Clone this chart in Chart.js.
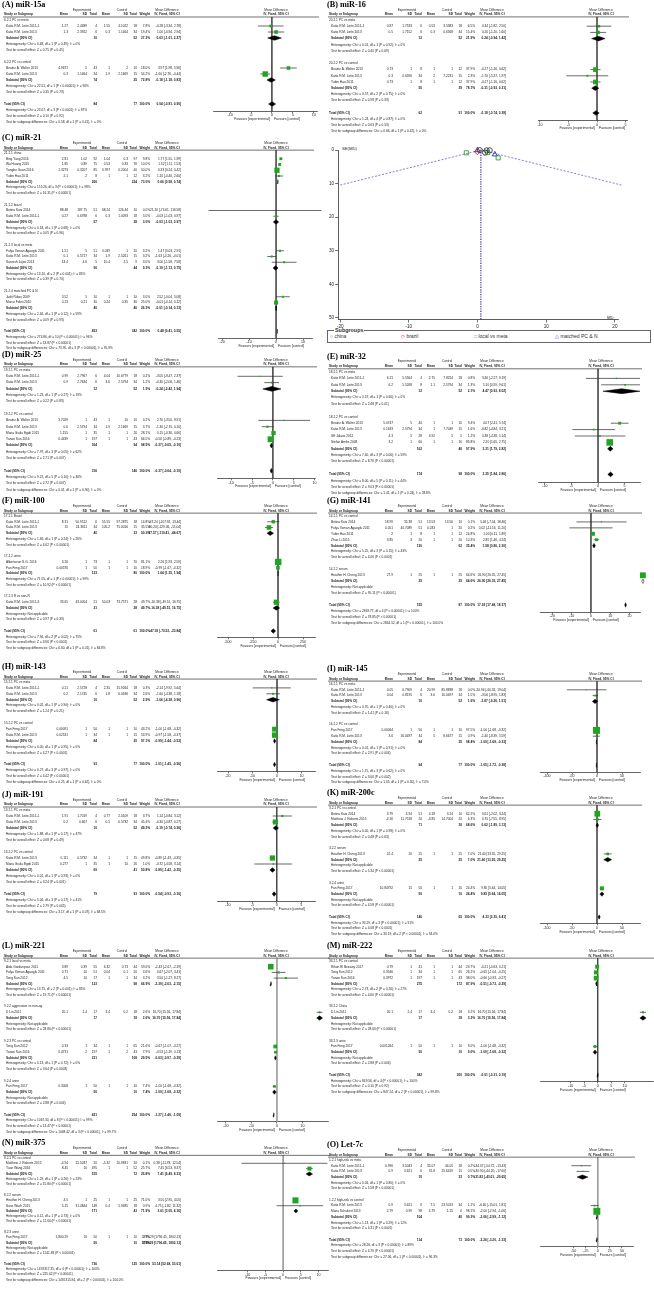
<!DOCTYPE html>
<html>
<head>
<meta charset="utf-8">
<script src="https://cdn.jsdelivr.net/npm/chart.js@4.4.1/dist/chart.umd.min.js"></script>
<style>
  body { margin: 0; background: #fff; width: 654px; height: 1295px; position: relative; overflow: hidden; }
  canvas { position: absolute; }
  .ttl { position: absolute; font: bold 8.2px "Liberation Serif", "Times New Roman", serif; line-height: 10px; white-space: nowrap; color: #000; }
  .lbl { position: absolute; font: 4.2px "Liberation Sans", Arial, sans-serif; color: #222; white-space: nowrap; }
  #legendBox { position: absolute; left: 327px; top: 330px; width: 322px; height: 11px; border: 0.8px solid #666; }
  #legendBox span { position: absolute; top: 2px; font: 5px "Liberation Sans", Arial, sans-serif; color: #333; white-space: nowrap; }
  #legendBox b { position: absolute; left: 6px; top: -4px; background: #fff; padding: 0 1px; font: bold 5.4px "Liberation Sans", Arial, sans-serif; color: #333; }
</style>
</head>
<body>
<div class="lbl" style="left:342px;top:146px;">SE(MD)</div>
<div class="lbl" style="left:607px;top:315px;">MD</div>
<div id="legendBox">
  <b>Subgroups</b>
  <span style="left:2px"><i style="font-style:normal;color:#222">○</i> china</span>
  <span style="left:73px"><i style="font-style:normal;color:#d42a2a">◇</i> brazil</span>
  <span style="left:146px"><i style="font-style:normal;color:#2fa32f">□</i> local vs meta</span>
  <span style="left:227px"><i style="font-style:normal;color:#2a2ad0">△</i> matched PC &amp; N</span>
</div>
<script>
/* -----------------------------------------------------------
      DATA
   row kinds: g = subgroup, s = study, d = subtotal,
   D = total, t = text line, b = blank
   s: name, meanE, sdE, nE, meanC, sdC, nC, weight, md, lo, hi
   d/D: label, nE, nC, weight, md, lo, hi
------------------------------------------------------------*/
const miR15a = [
  ['g', '6.2.1 PC vs meta'],
  ['s', 'Katia R.M. Leite 2011-1', '1.27', '2.4489', '4', '1.55', '4.1022', '18', 7.8, -0.28, -3.34, 2.78],
  ['s', 'Katia R.M. Leite 2013', '1.3', '2.3922', '6', '0.3', '1.1464', '34', 19.4, 1.00, -0.94, 2.94],
  ['d', 'Subtotal (95% CI)', '10', '52', 27.2, 0.63, -1.01, 2.27],
  ['t', 'Heterogeneity: Chi² = 0.48, df = 1 (P = 0.49); I² = 0%'],
  ['t', 'Test for overall effect: Z = 0.75 (P = 0.45)'],
  ['b'],
  ['g', '6.2.2 PC vs control'],
  ['s', 'Beatriz A. Walter 2013', '4.9671', '5', '43', '1', '2', '10', 18.0, 3.97, 1.98, 5.96],
  ['s', 'Katia R.M. Leite 2013', '0.3', '1.1464', '34', '1.9', '2.1669', '15', 54.2, -1.60, -2.76, -0.44],
  ['d', 'Subtotal (95% CI)', '74', '25', 72.8, -0.18, -1.18, 0.83],
  ['t', 'Heterogeneity: Chi² = 22.51, df = 1 (P < 0.00001); I² = 96%'],
  ['t', 'Test for overall effect: Z = 0.35 (P = 0.73)'],
  ['b'],
  ['D', 'Total (95% CI)', '84', '77', 100.0, 0.04, -0.81, 0.90],
  ['t', 'Heterogeneity: Chi² = 23.07, df = 3 (P < 0.0001); I² = 87%'],
  ['t', 'Test for overall effect: Z = 0.10 (P = 0.92)'],
  ['t', 'Test for subgroup differences: Chi² = 0.58, df = 1 (P = 0.41), I² = 0%']
];
const miR15aTicks = [-10, -5, 0, 5, 10];

const miR16 = [
  ['g', '20.2.1 PC vs meta'],
  ['s', 'Katia R.M. Leite 2011-1', '0.87', '1.7533', '6', '0.53', '3.5383', '18', 6.5, 0.34, -1.82, 2.50],
  ['s', 'Katia R.M. Leite 2013', '0.5', '1.7152', '6', '0.3', '0.6568', '34', 15.4, 0.20, -1.20, 1.60],
  ['d', 'Subtotal (95% CI)', '12', '52', 21.9, 0.24, -0.94, 1.42],
  ['t', 'Heterogeneity: Chi² = 0.01, df = 1 (P = 0.92); I² = 0%'],
  ['t', 'Test for overall effect: Z = 0.40 (P = 0.69)'],
  ['b'],
  ['g', '20.2.2 PC vs control'],
  ['s', 'Beatriz A. Walter 2013', '0.73', '1', '8', '1', '1', '12', 37.9, -0.27, -1.16, 0.62],
  ['s', 'Katia R.M. Leite 2013', '0.3', '0.6596', '34', '2', '7.2231', '15', 2.3, -1.70, -5.37, 1.97],
  ['s', 'Yubin Hao 2011', '0.73', '1', '8', '1', '1', '12', 37.9, -0.27, -1.16, 0.62],
  ['d', 'Subtotal (95% CI)', '50', '39', 78.1, -0.31, -0.93, 0.31],
  ['t', 'Heterogeneity: Chi² = 0.57, df = 2 (P = 0.75); I² = 0%'],
  ['t', 'Test for overall effect: Z = 0.98 (P = 0.33)'],
  ['b'],
  ['D', 'Total (95% CI)', '62', '91', 100.0, -0.18, -0.74, 0.38],
  ['t', 'Heterogeneity: Chi² = 1.24, df = 4 (P = 0.87); I² = 0%'],
  ['t', 'Test for overall effect: Z = 0.63 (P = 0.53)'],
  ['t', 'Test for subgroup differences: Chi² = 0.66, df = 1 (P = 0.42), I² = 0%']
];
const miR16Ticks = [-10, -5, 0, 5];

const miR21 = [
  ['g', '21.2.1 china'],
  ['s', 'Bing Yang 2016', '2.81', '1.02', '92', '1.04', '0.3', '97', 9.8, 1.77, 1.55, 1.99],
  ['s', 'Wu Huang 2015', '1.85', '0.89', '75', '0.53', '0.33', '76', 10.0, 1.32, 1.11, 1.53],
  ['s', 'Yangbo Guan 2016', '1.3273', '0.3207', '85', '0.997', '0.2004', '40', 50.0, 0.33, 0.24, 0.42],
  ['s', 'Yubin Hao 2011', '2.1', '2', '8', '1', '1', '12', 3.2, 1.10, -0.40, 2.60],
  ['d', 'Subtotal (95% CI)', '260', '224', 73.0, 0.66, 0.58, 0.74],
  ['t', 'Heterogeneity: Chi² = 155.26, df = 3 (P < 0.00001); I² = 98%'],
  ['t', 'Test for overall effect: Z = 16.31 (P < 0.00001)'],
  ['b'],
  ['g', '21.2.2 brazil'],
  ['s', 'Betina Katz 2014', '88.48', '187.75', '51', '68.24', '126.44', '10', 0.0, 21.20, -74.61, 116.58],
  ['s', 'Katia R.M. Leite 2011-1', '0.27', '0.6788', '6', '0.3', '1.0093', '18', 3.0, -0.03, -1.03, 0.97],
  ['d', 'Subtotal (95% CI)', '57', '28', 3.0, -0.03, -1.03, 0.97],
  ['t', 'Heterogeneity: Chi² = 0.18, df = 1 (P = 0.68); I² = 0%'],
  ['t', 'Test for overall effect: Z = 0.05 (P = 0.96)'],
  ['b'],
  ['g', '21.2.3 local vs meta'],
  ['s', 'Fulya Yaman Agaoglu 2011', '1.51', '5', '51', '0.039', '1', '20', 3.2, 1.47, 0.03, 2.91],
  ['s', 'Katia R.M. Leite 2013', '0.1', '0.5717', '34', '1.9', '2.5261', '15', 3.2, -1.63, -3.26, -0.01],
  ['s', 'Sarvesh Jajoo 2013', '13.4', '4.6', '5', '10.4', '2.5', '9', 3.0, 3.00, -1.58, 7.58],
  ['d', 'Subtotal (95% CI)', '90', '44', 9.3, -0.19, -1.13, 0.75],
  ['t', 'Heterogeneity: Chi² = 13.10, df = 2 (P = 0.001); I² = 85%'],
  ['t', 'Test for overall effect: Z = 0.39 (P = 0.70)'],
  ['b'],
  ['g', '21.2.4 matched PC & N'],
  ['s', 'Judit Ribas 2009', '3.52', '5', '10', '1', '1', '10', 3.0, 2.52, -0.04, 5.08],
  ['s', 'Marco Folini 2010', '0.23', '0.21', '30', '0.24', '0.35', '36', 25.0, -0.01, -0.14, 0.12],
  ['d', 'Subtotal (95% CI)', '40', '46', 26.3, -0.01, -0.14, 0.13],
  ['t', 'Heterogeneity: Chi² = 2.46, df = 1 (P = 0.12); I² = 59%'],
  ['t', 'Test for overall effect: Z = 0.09 (P = 0.93)'],
  ['b'],
  ['D', 'Total (95% CI)', '453', '342', 100.0, 0.48, 0.41, 0.55],
  ['t', 'Heterogeneity: Chi² = 274.86, df = 10 (P < 0.00001); I² = 96%'],
  ['t', 'Test for overall effect: Z = 13.87 (P < 0.00001)'],
  ['t', 'Test for subgroup differences: Chi² = 73.95, df = 3 (P < 0.00001), I² = 95.9%']
];
const miR21Ticks = [-20, -10, 0, 10];

const miR25 = [
  ['g', '19.2.1 PC vs meta'],
  ['s', 'Katia R.M. Leite 2011-1', '0.99', '2.7967', '6', '4.04', '10.6779', '18', 0.2, -3.05, -8.47, 2.37],
  ['s', 'Katia R.M. Leite 2013', '0.9', '2.7634', '6', '3.6', '2.5794', '34', 1.2, -0.30, -2.06, 1.46],
  ['d', 'Subtotal (95% CI)', '12', '52', 1.5, -0.24, -2.42, 1.94],
  ['t', 'Heterogeneity: Chi² = 1.23, df = 1 (P = 0.27); I² = 19%'],
  ['t', 'Test for overall effect: Z = 0.22 (P = 0.83)'],
  ['b'],
  ['g', '19.2.2 PC vs control'],
  ['s', 'Beatriz A. Walter 2013', '3.7029', '1', '43', '1', '10', '10', 0.2, 2.70, -3.50, 8.91],
  ['s', 'Katia R.M. Leite 2013', '0.6', '2.5794', '34', '1.9', '2.1669', '15', 3.7, -1.30, -2.70, 0.10],
  ['s', 'Maria Giulia Egidi 2015', '1.155', '1', '35', '1', '1', '26', 28.1, 0.15, -0.36, 0.66],
  ['s', 'Yanan Sun 2016', '0.4439', '1', '197', '1', '1', '43', 66.5, -0.56, -0.89, -0.23],
  ['d', 'Subtotal (95% CI)', '304', '94', 98.5, -0.37, -0.65, -0.10],
  ['t', 'Heterogeneity: Chi² = 7.97, df = 3 (P = 0.05); I² = 62%'],
  ['t', 'Test for overall effect: Z = 2.71 (P = 0.007)'],
  ['b'],
  ['D', 'Total (95% CI)', '316', '146', 100.0, -0.37, -0.64, -0.10],
  ['t', 'Heterogeneity: Chi² = 9.22, df = 5 (P = 0.10); I² = 46%'],
  ['t', 'Test for overall effect: Z = 2.72 (P = 0.007)'],
  ['t', 'Test for subgroup differences: Chi² = 0.01, df = 1 (P = 0.90), I² = 0%']
];
const miR25Ticks = [-10, -5, 0, 5, 10];

const miR32 = [
  ['g', '18.2.1 PC vs meta'],
  ['s', 'Katia R.M. Leite 2011-1', '6.21', '5.5564', '4', '2.75', '7.8224', '18', 0.8, 3.46, -2.27, 9.19],
  ['s', 'Katia R.M. Leite 2013', '6.2', '5.5268', '8', '1.1', '2.5794', '34', 1.3, 5.10, 0.59, 9.61],
  ['d', 'Subtotal (95% CI)', '12', '52', 2.1, 4.47, 0.93, 8.02],
  ['t', 'Heterogeneity: Chi² = 0.19, df = 1 (P = 0.66); I² = 0%'],
  ['t', 'Test for overall effect: Z = 2.48 (P = 0.01)'],
  ['b'],
  ['g', '18.2.2 PC vs control'],
  ['s', 'Beatriz A. Walter 2013', '5.0747', '5', '40', '1', '1', '10', 9.4, 4.07, 2.41, 5.74],
  ['s', 'Katia R.M. Leite 2013', '0.1633', '2.5794', '34', '1', '7.7049', '15', 1.6, -0.82, -4.84, 3.21],
  ['s', 'SE Jalava 2012', '4.3', '5', '28', '3.92', '5', '5', 1.2, 0.38, -4.38, 5.14],
  ['s', 'Stefan Ambs 2008', '3.2', '1', '60', '1', '1', '16', 85.8, 2.20, 1.65, 2.75],
  ['d', 'Subtotal (95% CI)', '162', '46', 97.9, 2.31, 1.79, 2.82],
  ['t', 'Heterogeneity: Chi² = 7.40, df = 3 (P = 0.06); I² = 59%'],
  ['t', 'Test for overall effect: Z = 8.76 (P < 0.00001)'],
  ['b'],
  ['D', 'Total (95% CI)', '174', '98', 100.0, 2.35, 1.84, 2.86],
  ['t', 'Heterogeneity: Chi² = 8.00, df = 5 (P = 0.11); I² = 44%'],
  ['t', 'Test for overall effect: Z = 9.03 (P < 0.00001)'],
  ['t', 'Test for subgroup differences: Chi² = 1.41, df = 1 (P = 0.24), I² = 28.8%']
];
const miR32Ticks = [-10, -5, 0, 5];

const miR100 = [
  ['g', '17.2.1 Brazil'],
  ['s', 'Katia R.M. Leite 2011-1', '8.31', '50.9512', '6', '55.55', '97.2875', '18', 14.8, -47.24, -107.92, 13.44],
  ['s', 'Katia R.M. Leite 2013', '15', '24.3611', '34', '105.2', '75.0016', '15', 35.5, -90.20, -129.36, -51.04],
  ['d', 'Subtotal (95% CI)', '40', '33', 50.3, -77.57, -110.41, -44.67],
  ['t', 'Heterogeneity: Chi² = 1.36, df = 1 (P = 0.24); I² = 26%'],
  ['t', 'Test for overall effect: Z = 4.62 (P < 0.00001)'],
  ['b'],
  ['g', '17.2.2 urine'],
  ['s', 'Albertovan S.G. 2016', '3.26', '1', '73', '1', '1', '70', 81.1, 2.26, 1.93, 2.59],
  ['s', 'Fan Feng 2017', '0.00576', '1', '50', '1', '1', '10', 18.9, -0.99, -1.67, -0.32],
  ['d', 'Subtotal (95% CI)', '123', '80', 100.0, 1.64, 1.35, 1.94],
  ['t', 'Heterogeneity: Chi² = 71.55, df = 1 (P < 0.00001); I² = 99%'],
  ['t', 'Test for overall effect: Z = 10.92 (P < 0.00001)'],
  ['b'],
  ['g', '17.2.3 R vs non-R'],
  ['s', 'Katia R.M. Leite 2011-3', '33.65', '43.0054', '21', '50.03', '73.7571', '28', 49.7, -16.38, -49.51, 16.75],
  ['d', 'Subtotal (95% CI)', '21', '28', 49.7, -16.38, -49.51, 16.75],
  ['t', 'Heterogeneity: Not applicable'],
  ['t', 'Test for overall effect: Z = 0.97 (P = 0.33)'],
  ['b'],
  ['D', 'Total (95% CI)', '61', '61', 100.0, -47.18, -70.53, -23.84],
  ['t', 'Heterogeneity: Chi² = 7.96, df = 2 (P = 0.02); I² = 75%'],
  ['t', 'Test for overall effect: Z = 3.96 (P < 0.0001)'],
  ['t', 'Test for subgroup differences: Chi² = 6.60, df = 1 (P = 0.01), I² = 84.8%']
];
const miR100Ticks = [-500, -250, 0, 250];

const miR141 = [
  ['g', '14.2.1 PC vs control'],
  ['s', 'Betina Katz 2014', '18.99', '35.38', '51', '13.53', '13.56', '10', 0.1, 5.46, -7.54, 18.46],
  ['s', 'Fulya Yaman Agaoglu 2011', '0.051', '40.7089', '51', '0.033', '1', '20', 0.2, 0.02, -11.16, 11.20],
  ['s', 'Yubin Hao 2011', '2', '1', '8', '1', '1', '12', 24.8, 1.00, 0.11, 1.89],
  ['s', 'Zhuo Li 2015', '3.85', '3', '20', '1', '1', '20', 10.3, 2.85, 1.46, 4.24],
  ['d', 'Subtotal (95% CI)', '130', '62', 35.4, 1.58, 0.86, 2.30],
  ['t', 'Heterogeneity: Chi² = 5.25, df = 3 (P = 0.15); I² = 43%'],
  ['t', 'Test for overall effect: Z = 4.06 (P < 0.0001)'],
  ['b'],
  ['g', '14.2.2 serum'],
  ['s', 'Heather H. Cheng 2013', '27.9', '1', '25', '1', '1', '25', 64.6, 26.90, 26.35, 27.45],
  ['d', 'Subtotal (95% CI)', '25', '25', 64.6, 26.90, 26.35, 27.45],
  ['t', 'Heterogeneity: Not applicable'],
  ['t', 'Test for overall effect: Z = 95.11 (P < 0.00001)'],
  ['b'],
  ['D', 'Total (95% CI)', '155', '87', 100.0, 17.92, 17.48, 18.37],
  ['t', 'Heterogeneity: Chi² = 2849.77, df = 4 (P < 0.00001); I² = 100%'],
  ['t', 'Test for overall effect: Z = 78.85 (P < 0.00001)'],
  ['t', 'Test for subgroup differences: Chi² = 2844.52, df = 1 (P < 0.00001), I² = 100.0%']
];
const miR141Ticks = [-20, -10, 0, 10, 20];

const miR143 = [
  ['g', '15.2.1 PC vs meta'],
  ['s', 'Katia R.M. Leite 2011-1', '0.21', '2.5728', '4', '2.35', '15.9264', '18', 0.3, -2.14, -9.92, 5.64],
  ['s', 'Katia R.M. Leite 2013', '0.2', '2.1745', '6', '1.8', '6.0186', '34', 2.6, -1.60, -4.38, 1.18],
  ['d', 'Subtotal (95% CI)', '10', '52', 2.9, -1.66, -4.28, 0.96],
  ['t', 'Heterogeneity: Chi² = 0.02, df = 1 (P = 0.90); I² = 0%'],
  ['t', 'Test for overall effect: Z = 1.24 (P = 0.21)'],
  ['b'],
  ['g', '15.2.2 PC vs control'],
  ['s', 'Fan Feng 2017', '0.00091', '1', '50', '1', '1', '10', 43.2, -1.00, -1.68, -0.32],
  ['s', 'Katia R.M. Leite 2013', '0.02531', '1', '34', '1', '1', '15', 53.9, -0.97, -1.58, -0.37],
  ['d', 'Subtotal (95% CI)', '84', '25', 97.1, -0.99, -1.44, -0.53],
  ['t', 'Heterogeneity: Chi² = 0.00, df = 1 (P = 0.95); I² = 0%'],
  ['t', 'Test for overall effect: Z = 4.27 (P < 0.0001)'],
  ['b'],
  ['D', 'Total (95% CI)', '93', '77', 100.0, -1.01, -1.45, -0.56],
  ['t', 'Heterogeneity: Chi² = 0.27, df = 3 (P = 0.97); I² = 0%'],
  ['t', 'Test for overall effect: Z = 4.42 (P < 0.00001)'],
  ['t', 'Test for subgroup differences: Chi² = 0.25, df = 1 (P = 0.62), I² = 0%']
];
const miR143Ticks = [-20, -10, 0, 10];

const miR145 = [
  ['g', '16.2.1 PC vs meta'],
  ['s', 'Katia R.M. Leite 2011-1', '0.05', '0.7909', '4', '20.99', '85.8838', '18', 0.0, -20.94, -60.32, 19.04],
  ['s', 'Katia R.M. Leite 2013', '0.04', '0.8195', '6', '3.6', '16.0497', '34', 1.5, -3.56, -8.95, 1.83],
  ['d', 'Subtotal (95% CI)', '10', '52', 1.6, -3.87, -9.26, 1.51],
  ['t', 'Heterogeneity: Chi² = 0.70, df = 1 (P = 0.40); I² = 0%'],
  ['t', 'Test for overall effect: Z = 1.41 (P = 0.16)'],
  ['b'],
  ['g', '16.2.2 PC vs control'],
  ['s', 'Fan Feng 2017', '0.00064', '1', '50', '1', '1', '10', 97.5, -1.00, -1.68, -0.32],
  ['s', 'Katia R.M. Leite 2013', '3.6', '16.0497', '34', '5', '8.6677', '15', 0.9, -1.40, -8.39, 5.59],
  ['d', 'Subtotal (95% CI)', '84', '25', 98.4, -1.00, -1.68, -0.33],
  ['t', 'Heterogeneity: Chi² = 0.01, df = 1 (P = 0.91); I² = 0%'],
  ['t', 'Test for overall effect: Z = 2.91 (P = 0.004)'],
  ['b'],
  ['D', 'Total (95% CI)', '94', '77', 100.0, -1.05, -1.72, -0.38],
  ['t', 'Heterogeneity: Chi² = 1.75, df = 3 (P = 0.62); I² = 0%'],
  ['t', 'Test for overall effect: Z = 3.06 (P = 0.002)'],
  ['t', 'Test for subgroup differences: Chi² = 1.05, df = 1 (P = 0.30), I² = 7.0%']
];
const miR145Ticks = [-100, -50, 0, 50];

const miR191 = [
  ['g', '13.2.1 PC vs meta'],
  ['s', 'Katia R.M. Leite 2011-1', '1.91', '1.7019', '4', '0.77', '2.0109', '18', 3.7, 1.14, -0.84, 3.12],
  ['s', 'Katia R.M. Leite 2013', '0.2', '0.667', '6', '0.5', '0.5732', '34', 45.4, -0.30, -0.87, 0.27],
  ['d', 'Subtotal (95% CI)', '10', '52', 49.2, -0.19, -0.74, 0.36],
  ['t', 'Heterogeneity: Chi² = 1.88, df = 1 (P = 0.17); I² = 47%'],
  ['t', 'Test for overall effect: Z = 0.68 (P = 0.49)'],
  ['b'],
  ['g', '13.2.2 PC vs control'],
  ['s', 'Katia R.M. Leite 2013', '0.111', '0.5732', '34', '1', '1', '15', 49.8, -0.89, -1.43, -0.35],
  ['s', 'Maria Giulia Egidi 2015', '0.277', '1', '35', '1', '10', '26', 1.0, -0.72, -4.58, 3.14],
  ['d', 'Subtotal (95% CI)', '69', '41', 50.8, -0.89, -1.42, -0.35],
  ['t', 'Heterogeneity: Chi² = 0.01, df = 1 (P = 0.93); I² = 0%'],
  ['t', 'Test for overall effect: Z = 3.24 (P = 0.001)'],
  ['b'],
  ['D', 'Total (95% CI)', '79', '93', 100.0, -0.54, -0.93, -0.16],
  ['t', 'Heterogeneity: Chi² = 5.06, df = 3 (P = 0.17); I² = 41%'],
  ['t', 'Test for overall effect: Z = 2.79 (P = 0.005)'],
  ['t', 'Test for subgroup differences: Chi² = 3.17, df = 1 (P = 0.07), I² = 68.5%']
];
const miR191Ticks = [-10, -5, 0, 5];

const miR200c = [
  ['g', '3.2.1 PC vs control'],
  ['s', 'Betina Katz 2014', '3.79', '5.94', '51', '3.18', '3.24', '10', 62.2, 0.61, -2.02, 3.24],
  ['s', 'Matthew J. Roberts 2015', '-3.16', '11.7518', '20', '-3.85', '14.7004', '20', 6.3, 0.70, -7.55, 8.95],
  ['d', 'Subtotal (95% CI)', '71', '30', 68.6, 0.62, -1.89, 3.13],
  ['t', 'Heterogeneity: Chi² = 0.00, df = 1 (P = 0.98); I² = 0%'],
  ['t', 'Test for overall effect: Z = 0.48 (P = 0.63)'],
  ['b'],
  ['g', '3.2.2 serum'],
  ['s', 'Heather H. Cheng 2013', '22.4', '20', '25', '1', '1', '25', 7.0, 21.40, 13.55, 29.25],
  ['d', 'Subtotal (95% CI)', '25', '25', 7.0, 21.40, 13.55, 29.25],
  ['t', 'Heterogeneity: Not applicable'],
  ['t', 'Test for overall effect: Z = 5.34 (P < 0.00001)'],
  ['b'],
  ['g', '3.2.4 urine'],
  ['s', 'Fan Feng 2017', '10.84792', '15', '50', '1', '1', '10', 24.4, 9.85, 5.64, 14.05],
  ['d', 'Subtotal (95% CI)', '50', '10', 24.4, 9.85, 5.64, 14.05],
  ['t', 'Heterogeneity: Not applicable'],
  ['t', 'Test for overall effect: Z = 4.58 (P < 0.00001)'],
  ['b'],
  ['D', 'Total (95% CI)', '146', '65', 100.0, 4.33, 2.25, 6.41],
  ['t', 'Heterogeneity: Chi² = 33.19, df = 3 (P < 0.00001); I² = 91%'],
  ['t', 'Test for overall effect: Z = 4.08 (P < 0.0001)'],
  ['t', 'Test for subgroup differences: Chi² = 33.19, df = 2 (P < 0.00001), I² = 94.0%']
];
const miR200cTicks = [-100, -50, 0, 50];

const miR221 = [
  ['g', '9.2.1 local vs meta'],
  ['s', 'Aida Gordanpour 2011', '3.89', '0.39', '55', '6.32', '0.73', '44', 59.0, -2.43, -2.67, -2.19],
  ['s', 'Fulya Yaman Agaoglu 2011', '0.71', '10', '51', '0.04', '0.1', '20', 3.6, 0.67, -2.07, 3.41],
  ['s', 'Tong Sun 2012', '4.5', '10', '17', '1', '1', '34', 3.2, 3.50, -1.27, 8.27],
  ['d', 'Subtotal (95% CI)', '123', '98', 66.9, -2.39, -2.63, -2.15],
  ['t', 'Heterogeneity: Chi² = 13.75, df = 2 (P = 0.001); I² = 85%'],
  ['t', 'Test for overall effect: Z = 19.71 (P < 0.00001)'],
  ['b'],
  ['g', '9.2.2 aggressive vs non-ag'],
  ['s', 'D Lin 2011', '20.1', '2.4', '17', '3.4', '0.2', '18', 2.6, 16.70, 15.56, 17.84],
  ['d', 'Subtotal (95% CI)', '17', '18', 2.6, 16.70, 15.56, 17.84],
  ['t', 'Heterogeneity: Not applicable'],
  ['t', 'Test for overall effect: Z = 28.80 (P < 0.00001)'],
  ['b'],
  ['g', '9.2.3 PC vs control'],
  ['s', 'Tong Sun 2012', '0.33', '1', '34', '1', '1', '65', 21.6, -0.67, -1.07, -0.27],
  ['s', 'Yanan Sun 2016', '0.4731', '2', '197', '1', '2', '43', 7.9, -0.53, -1.19, 0.13],
  ['d', 'Subtotal (95% CI)', '231', '108', 29.5, -0.63, -0.97, -0.29],
  ['t', 'Heterogeneity: Chi² = 0.13, df = 1 (P = 0.72); I² = 0%'],
  ['t', 'Test for overall effect: Z = 3.64 (P = 0.0003)'],
  ['b'],
  ['g', '9.2.4 urine'],
  ['s', 'Fan Feng 2017', '0.3008', '1', '50', '1', '1', '10', 7.4, -1.00, -1.68, -0.32],
  ['d', 'Subtotal (95% CI)', '50', '10', 7.4, -1.00, -1.68, -0.32],
  ['t', 'Heterogeneity: Not applicable'],
  ['t', 'Test for overall effect: Z = 2.88 (P = 0.004)'],
  ['b'],
  ['D', 'Total (95% CI)', '421', '254', 100.0, -1.27, -1.46, -1.09],
  ['t', 'Heterogeneity: Chi² = 1067.30, df = 8 (P < 0.00001); I² = 99%'],
  ['t', 'Test for overall effect: Z = 13.47 (P < 0.00001)'],
  ['t', 'Test for subgroup differences: Chi² = 1048.42, df = 3 (P < 0.00001), I² = 99.7%']
];
const miR221Ticks = [-20, -10, 0, 10];

const miR222 = [
  ['g', '33.2.1 PC vs control'],
  ['s', 'Rihan El Bezawy 2017', '0.79', '1', '41', '1', '1', '44', 23.7, -0.21, -0.63, 0.21],
  ['s', 'Tong Sun 2012', '0.3546', '1', '34', '1', '1', '65', 26.2, -0.65, -1.04, -0.25],
  ['s', 'Yanan Sun 2016', '0.3972', '1', '197', '1', '1', '43', 38.0, -0.60, -0.93, -0.27],
  ['d', 'Subtotal (95% CI)', '275', '172', 87.9, -0.51, -0.73, -0.29],
  ['t', 'Heterogeneity: Chi² = 2.73, df = 2 (P = 0.26); I² = 27%'],
  ['t', 'Test for overall effect: Z = 4.60 (P < 0.00001)'],
  ['b'],
  ['g', '33.2.2 China'],
  ['s', 'D Lin 2011', '20.1', '2.4', '17', '3.4', '0.2', '18', 3.2, 16.70, 15.56, 17.84],
  ['d', 'Subtotal (95% CI)', '17', '18', 3.2, 16.70, 15.56, 17.84],
  ['t', 'Heterogeneity: Not applicable'],
  ['t', 'Test for overall effect: Z = 28.60 (P < 0.00001)'],
  ['b'],
  ['g', '33.2.3 urine'],
  ['s', 'Fan Feng 2017', '0.001264', '1', '50', '1', '1', '10', 9.0, -1.00, -1.68, -0.32],
  ['d', 'Subtotal (95% CI)', '50', '10', 9.0, -1.00, -1.68, -0.32],
  ['t', 'Heterogeneity: Not applicable'],
  ['t', 'Test for overall effect: Z = 2.88 (P = 0.004)'],
  ['b'],
  ['D', 'Total (95% CI)', '342', '200', 100.0, -0.01, -0.21, 0.19],
  ['t', 'Heterogeneity: Chi² = 849.56, df = 4 (P < 0.00001); I² = 100%'],
  ['t', 'Test for overall effect: Z = 0.10 (P = 0.92)'],
  ['t', 'Test for subgroup differences: Chi² = 847.24, df = 2 (P < 0.00001), I² = 99.8%']
];
const miR222Ticks = [-10, -5, 0, 5, 10];

const miR375 = [
  ['g', '8.2.1 PC vs control'],
  ['s', 'Matthew J. Roberts 2015', '-4.94', '15.5037', '20', '-5.32', '20.9831', '20', 0.1, 0.38, -11.78, 12.54],
  ['s', 'Yuan Wang 2016', '8.45', '10', '495', '1', '1', '52', 25.7, 7.45, 6.53, 8.37],
  ['d', 'Subtotal (95% CI)', '515', '72', 25.8, 7.41, 6.49, 8.33],
  ['t', 'Heterogeneity: Chi² = 1.29, df = 1 (P = 0.26); I² = 23%'],
  ['t', 'Test for overall effect: Z = 15.80 (P < 0.00001)'],
  ['b'],
  ['g', '8.2.2 serum'],
  ['s', 'Heather H. Cheng 2013', '4.5', '1', '25', '1', '1', '25', 71.0, 3.50, 2.95, 4.05],
  ['s', 'Suse Wach 2015', '5.15', '31.4844', '148', '0.4', '5.9485', '18', 0.9, 4.75, -1.82, 11.32],
  ['d', 'Subtotal (95% CI)', '171', '43', 71.9, 3.61, 3.05, 4.16],
  ['t', 'Heterogeneity: Chi² = 0.12, df = 1 (P = 0.73); I² = 0%'],
  ['t', 'Test for overall effect: Z = 12.60 (P < 0.00001)'],
  ['b'],
  ['g', '8.2.3 urine'],
  ['s', 'Fan Feng 2017', '1,800.29', '10', '50', '1', '1', '10', 2.7, 1799.29, 1796.45, 1802.13],
  ['d', 'Subtotal (95% CI)', '50', '10', 2.7, 1799.29, 1796.45, 1802.13],
  ['t', 'Heterogeneity: Not applicable'],
  ['t', 'Test for overall effect: Z = 1241.83 (P < 0.00001)'],
  ['b'],
  ['D', 'Total (95% CI)', '736', '125', 100.0, 53.14, 52.68, 53.61],
  ['t', 'Heterogeneity: Chi² = 1492317.35, df = 4 (P < 0.00001); I² = 100%'],
  ['t', 'Test for overall effect: Z = 225.02 (P < 0.00001)'],
  ['t', 'Test for subgroup differences: Chi² = 1492315.94, df = 2 (P < 0.00001), I² = 100.0%']
];
const miR375Ticks = [-10, -5, 0, 5, 10];

const let7c = [
  ['g', '1.2.1 high-risk vs meta'],
  ['s', 'Katia R.M. Leite 2011-1', '0.996', '3.5043', '4', '35.07', '44.05', '18', 0.2, -34.07, -54.72, -13.43],
  ['s', 'Katia R.M. Leite 2013', '0.9', '3.621', '6', '31.8', '25.6419', '15', 0.5, -30.90, -44.20, -17.60],
  ['d', 'Subtotal (95% CI)', '10', '33', 0.7, -31.83, -43.01, -20.65],
  ['t', 'Heterogeneity: Chi² = 0.06, df = 1 (P = 0.80); I² = 0%'],
  ['t', 'Test for overall effect: Z = 5.58 (P < 0.00001)'],
  ['b'],
  ['g', '1.2.2 high-risk vs control'],
  ['s', 'Katia R.M. Leite 2013', '0.9', '3.621', '6', '7.5', '23.5013', '34', 1.2, -6.60, -15.01, 1.81],
  ['s', 'Maria Schubert 2013', '2.79', '0.99', '98', '4.79', '1.15', '6', 98.1, -2.00, -2.94, -1.06],
  ['d', 'Subtotal (95% CI)', '104', '40', 99.3, -2.06, -2.99, -1.12],
  ['t', 'Heterogeneity: Chi² = 1.13, df = 1 (P = 0.29); I² = 12%'],
  ['t', 'Test for overall effect: Z = 4.31 (P < 0.0001)'],
  ['b'],
  ['D', 'Total (95% CI)', '114', '73', 100.0, -2.26, -3.20, -1.33],
  ['t', 'Heterogeneity: Chi² = 28.26, df = 3 (P < 0.00001); I² = 89%'],
  ['t', 'Test for overall effect: Z = 4.76 (P < 0.00001)'],
  ['t', 'Test for subgroup differences: Chi² = 27.06, df = 1 (P < 0.00001), I² = 96.3%']
];
const let7cTicks = [-50, -25, 0, 25, 50];

/* funnel plot of miR-21: [MD, SE(MD)] */
const funnelChina = [[1.77, 0.11], [1.32, 0.11], [0.33, 0.05], [1.10, 0.77]];
const funnelBrazil = [[21.20, 48.7], [-0.03, 0.51]];
const funnelLocal = [[1.47, 0.74], [-1.63, 0.83], [3.00, 2.34]];
const funnelMatched = [[2.52, 1.31], [-0.01, 0.07]];
const funnelPooled = 0.48;
const funnelSEmax = 10.45;
const funnelXTicks = [-20, -10, 0, 10, 20];
const funnelYTicks = [0, 10, 20, 30, 40, 50];

/* -----------------------------------------------------------
      PANEL LAYOUT
------------------------------------------------------------*/
const FONT = '"Liberation Sans", Arial, sans-serif';
const TXT = 3.2;            // table text size
const SQ_COLOR = "#1fa51f";

const PANELS = [
  { title: "(A) miR-15a", rows: miR15a, ticks: miR15aTicks, x: 0, T: 5, lh: 6.0, L: 213, R: 317, min: -14.1, max: 10.8 },
  { title: "(B) miR-16", rows: miR16, ticks: miR16Ticks, x: 325, T: 5, lh: 6.2, L: 213, R: 302, min: -10.35, max: 5.26 },
  { title: "(C) miR-21", rows: miR21, ticks: miR21Ticks, x: 0, T: 138, lh: 5.75, L: 218, R: 312, min: -21.5, max: 13.3, ext: 3.5 },
  { title: "(D) miR-25", rows: miR25, ticks: miR25Ticks, x: 0, T: 355, lh: 6.3, L: 217, R: 315, min: -13.4, max: 10.1 },
  { title: "(E) miR-32", rows: miR32, ticks: miR32Ticks, x: 325, T: 357, lh: 6.4, L: 213, R: 315, min: -11.3, max: 7.9 },
  { title: "(F) miR-100", rows: miR100, ticks: miR100Ticks, x: 0, T: 501, lh: 5.75, L: 217, R: 315, min: -610, max: 370 },
  { title: "(G) miR-141", rows: miR141, ticks: miR141Ticks, x: 325, T: 501, lh: 5.93, L: 215, R: 315, min: -26.4, max: 25.4, ext: 2.5 },
  { title: "(H) miR-143", rows: miR143, ticks: miR143Ticks, x: 0, T: 667, lh: 5.9, L: 217, R: 315, min: -24.5, max: 15.5 },
  { title: "(I) miR-145", rows: miR145, ticks: miR145Ticks, x: 325, T: 669, lh: 5.8, L: 215, R: 315, min: -114, max: 86 },
  { title: "(J) miR-191", rows: miR191, ticks: miR191Ticks, x: 0, T: 795, lh: 6.0, L: 217, R: 315, min: -12.2, max: 7.8 },
  { title: "(K) miR-200c", rows: miR200c, ticks: miR200cTicks, x: 325, T: 793, lh: 5.74, L: 215, R: 315, min: -114, max: 86 },
  { title: "(L) miR-221", rows: miR221, ticks: miR221Ticks, x: 0, T: 946, lh: 5.7, L: 217, R: 328, min: -23.5, max: 20.0, zero: "grey" },
  { title: "(M) miR-222", rows: miR222, ticks: miR222Ticks, x: 325, T: 946, lh: 5.7, L: 215, R: 328, min: -21.3, max: 20.4 },
  { title: "(N) miR-375", rows: miR375, ticks: miR375Ticks, x: 0, T: 1143, lh: 5.3, L: 217, R: 328, min: -18.7, max: 12.7, zero: "grey" },
  { title: "(O) Let-7c", rows: let7c, ticks: let7cTicks, x: 325, T: 1145, lh: 5.7, L: 215, R: 308, min: -120, max: 73, zero: "grey" }
];

/* CI TEXT */
function ciText(md, lo, hi) {
  return md.toFixed(2) + " [" + lo.toFixed(2) + ", " + hi.toFixed(2) + "]";
}

function lineSet(points, color, width, order) {
  return {
    data: points, showLine: true, borderColor: color, borderWidth: width,
    pointRadius: 0, fill: false, tension: 0, order: order, clip: false
  };
}

/* -----------------------------------------------------------
      TABLE TEXT (drawn next to the forest plot)
------------------------------------------------------------*/
function drawTable(chart, p, axisIdx) {
  const ctx = chart.ctx;
  const Y = (v) => chart.scales.y.getPixelForValue(v);
  const zx = chart.scales.x.getPixelForValue(0);

  function put(s, x, y, align, bold, size) {
    ctx.font = (bold ? "bold " : "") + (size || TXT) + "px " + FONT;
    ctx.textAlign = align || "left";
    ctx.fillText(s, x, y);
  }

  ctx.save();
  ctx.fillStyle = "#1c1c1c";
  ctx.textBaseline = "middle";

  // header
  const rule = Y(-0.5);
  ctx.strokeStyle = "#333";
  ctx.lineWidth = 0.7;
  ctx.beginPath();
  ctx.moveTo(3, rule);
  ctx.lineTo(p.R + 2, rule);
  ctx.stroke();

  const h1 = rule - 7.2, h2 = rule - 2.4;
  put("Experimental", 82, h1, "center");
  put("Control", 122, h1, "center");
  put("Mean Difference", 167, h1, "center");
  put("Mean Difference", 276, h1, "center");
  put("Study or Subgroup", 4, h2, "left", true);
  put("Mean", 68, h2, "right", true);
  put("SD", 87, h2, "right", true);
  put("Total", 97, h2, "right", true);
  put("Mean", 110, h2, "right", true);
  put("SD", 128, h2, "right", true);
  put("Total", 137, h2, "right", true);
  put("Weight", 150, h2, "right", true);
  put("IV, Fixed, 95% CI", 167, h2, "center", true);
  put("IV, Fixed, 95% CI", 276, h2, "center", true);

  // rows
  p.rows.forEach((r, i) => {
    const y = Y(i);
    const k = r[0];
    if (k === "g") {
      put(r[1], 4, y);
    } else if (k === "t") {
      put(r[1], 6, y);
    } else if (k === "s") {
      put(r[1], 6, y);
      put(r[2], 68, y, "right");
      put(r[3], 87, y, "right");
      put(r[4], 97, y, "right");
      put(r[5], 110, y, "right");
      put(r[6], 128, y, "right");
      put(r[7], 137, y, "right");
      put(r[8].toFixed(1) + "%", 150, y, "right");
      put(ciText(r[9], r[10], r[11]), 181, y, "right");
    } else if (k === "d" || k === "D") {
      put(r[1], k === "D" ? 4 : 6, y, "left", true);
      put(r[2], 97, y, "right", true);
      put(r[3], 137, y, "right", true);
      put(r[4].toFixed(1) + "%", 150, y, "right", true);
      put(ciText(r[5], r[6], r[7]), 181, y, "right", true);
    }
  });

  // favours labels under the axis
  const fy = Y(axisIdx) + 8;
  put("Favours [experimental]", zx - 2, fy, "right", false, 3.5);
  put("Favours [control]", zx + 2, fy, "left", false, 3.5);
  ctx.restore();
}

/* -----------------------------------------------------------
      FOREST PLOT
------------------------------------------------------------*/
function buildForest(p) {
  const rows = p.rows;
  const totalIdx = rows.findIndex((r) => r[0] === "D");
  const axisIdx = totalIdx + 1.2;
  const first = 25;
  const w = Math.max(p.R + 8, 325);
  const h = Math.ceil(first + rows.length * p.lh + 8);
  const padT = first - 0.5 * p.lh;
  const bottom = first + axisIdx * p.lh;

  const cv = document.createElement("canvas");
  cv.width = w;
  cv.height = h;
  cv.style.left = p.x + "px";
  cv.style.top = (p.T - 10) + "px";
  document.body.appendChild(cv);

  const t = document.createElement("div");
  t.className = "ttl";
  t.textContent = p.title;
  t.style.left = (p.x + 2) + "px";
  t.style.top = (p.T - 5) + "px";
  document.body.appendChild(t);

  const ext = p.ext || 0;
  const lo = p.min - ext, hi = p.max + ext;
  const clamp = (v) => Math.min(hi, Math.max(lo, v));

  const datasets = [];
  const squares = [], radii = [];
  rows.forEach((r, i) => {
    if (r[0] === "s") {
      const a = clamp(r[10]), b = clamp(r[11]);
      if (b > a) datasets.push(lineSet([{ x: a, y: i }, { x: b, y: i }], "#2b2b2b", 0.7, 2));
      if (r[9] >= lo && r[9] <= hi) {
        squares.push({ x: r[9], y: i });
        radii.push((1 + 0.6 * Math.sqrt(r[8])) / 1.414);
      }
    } else if (r[0] === "d" || r[0] === "D") {
      if (r[5] < lo || r[5] > hi) return;
      const a = clamp(r[6]), b = clamp(r[7]);
      datasets.push({
        data: [{ x: a, y: i }, { x: r[5], y: i - 0.38 }, { x: b, y: i }, { x: r[5], y: i + 0.38 }, { x: a, y: i }],
        showLine: true, fill: "shape", backgroundColor: "#000", borderColor: "#000",
        borderWidth: 0.5, pointRadius: 0, tension: 0, order: 1, clip: false
      });
    }
  });
  datasets.push({
    data: squares, pointStyle: "rect", pointRadius: radii, backgroundColor: SQ_COLOR,
    borderWidth: 0, order: 0, clip: false
  });
  const grey = p.zero === "grey";
  datasets.push(lineSet([{ x: 0, y: -0.5 }, { x: 0, y: axisIdx }], grey ? "#9a9a9a" : "#333", grey ? 1.6 : 0.7, 3));

  new Chart(cv, {
    type: "scatter",
    data: { datasets },
    options: {
      responsive: false,
      animation: false,
      events: [],
      layout: { padding: { left: p.L, right: w - p.R, top: padT, bottom: h - bottom } },
      plugins: { legend: { display: false }, tooltip: { enabled: false } },
      scales: {
        x: {
          type: "linear", min: p.min, max: p.max, position: { y: axisIdx },
          afterBuildTicks: (s) => { s.ticks = p.ticks.map((v) => ({ value: v })); },
          ticks: { font: { family: FONT, size: 3.6 }, color: "#222", padding: 0.5, maxRotation: 0, autoSkip: false },
          grid: { drawOnChartArea: false, drawTicks: true, tickLength: 1.5, color: "#222", lineWidth: 0.6 },
          border: { display: true, color: "#222", width: 0.7 }
        },
        y: { type: "linear", min: -0.5, max: axisIdx, reverse: true, display: false }
      }
    },
    plugins: [{ id: "tbl", afterDraw: (c) => drawTable(c, p, axisIdx) }]
  });
}

/* -----------------------------------------------------------
      FUNNEL PLOT (miR-21)
------------------------------------------------------------*/
function buildFunnel() {
  const cv = document.createElement("canvas");
  cv.width = 329;
  cv.height = 192;
  cv.style.left = "325px";
  cv.style.top = "140px";
  document.body.appendChild(cv);

  const pts = (a) => a.map(([x, y]) => ({ x, y }));
  const mark = (data, style, color, r) => ({
    data: pts(data), pointStyle: style, pointRadius: r, borderColor: color,
    backgroundColor: "rgba(0,0,0,0)", borderWidth: 0.9, clip: false
  });

  new Chart(cv, {
    type: "scatter",
    data: {
      datasets: [
        mark(funnelChina, "circle", "#3a3a3a", 2.6),
        mark(funnelBrazil, "rectRot", "#d42a2a", 3),
        mark(funnelLocal, "rect", "#2fa32f", 2.9),
        mark(funnelMatched, "triangle", "#2a2ad0", 3),
        {
          data: [
            { x: funnelPooled - 1.96 * funnelSEmax, y: funnelSEmax },
            { x: funnelPooled, y: 0 },
            { x: funnelPooled + 1.96 * funnelSEmax, y: funnelSEmax }
          ],
          showLine: true, borderDash: [2, 1.6], borderColor: "#7373d2", borderWidth: 0.9,
          pointRadius: 0, tension: 0, clip: false
        },
        {
          data: [{ x: funnelPooled, y: 0 }, { x: funnelPooled, y: 50.5 }],
          showLine: true, borderDash: [1.2, 1.2], borderColor: "#4a4ab4", borderWidth: 1.4,
          pointRadius: 0, clip: false
        }
      ]
    },
    options: {
      responsive: false,
      animation: false,
      events: [],
      layout: { padding: { left: 3, right: 36, top: 10, bottom: 2 } },
      plugins: { legend: { display: false }, tooltip: { enabled: false } },
      scales: {
        x: {
          type: "linear", min: -20.3, max: 20.45, position: "bottom",
          afterBuildTicks: (s) => { s.ticks = funnelXTicks.map((v) => ({ value: v })); },
          ticks: { font: { family: FONT, size: 4.6 }, color: "#222", padding: 1, maxRotation: 0 },
          grid: { drawOnChartArea: false, tickLength: 3, color: "#333", lineWidth: 0.7 },
          border: { display: true, color: "#333", width: 0.8 }
        },
        y: {
          type: "linear", min: 0, max: 50.5, reverse: true, position: "left",
          afterBuildTicks: (s) => { s.ticks = funnelYTicks.map((v) => ({ value: v })); },
          ticks: { font: { family: FONT, size: 4.6 }, color: "#222", padding: 1 },
          grid: { drawOnChartArea: false, tickLength: 3, color: "#333", lineWidth: 0.7 },
          border: { display: true, color: "#333", width: 0.8 }
        }
      }
    }
  });
}

PANELS.forEach(buildForest);
buildFunnel();
</script>
</body>
</html>
